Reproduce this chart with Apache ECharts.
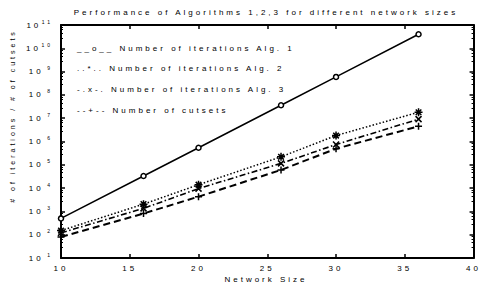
<!DOCTYPE html>
<html>
<head>
<meta charset="utf-8">
<script src="https://cdn.jsdelivr.net/npm/echarts@6/dist/echarts.min.js"></script>
<style>
    html, body { margin: 0; padding: 0; background: #fff; }
    #chart { width: 481px; height: 286px; }
    /* the original figure uses widely spaced lettering */
    #chart text { letter-spacing: 3px; }
</style>
</head>
<body>
<div id="chart"></div>
<script>
// Network sizes (x) and measured counts (y, log scale)
const sizes = [10, 16, 20, 26, 30, 36];
const alg1 = [500, 33000, 540000, 3.6e7, 5.9e8, 4e10];
const alg2 = [150, 2050, 14000, 2.2e5, 1.8e6, 1.8e7];
const alg3 = [120, 1350, 9500, 1.15e5, 7.4e5, 9.1e6];
const cutsets = [80, 810, 4300, 6e4, 4.9e5, 4.5e6];

const legendLines = [
    '__o__ Number of iterations Alg. 1',
    '..*.. Number of iterations Alg. 2',
    '-.x-. Number of iterations Alg. 3',
    '--+-- Number of cutsets'
];
const titleText = 'Performance of Algorithms 1,2,3 for different network sizes';
const xName = 'Network Size';
const yName = '# of iterations / # of cutsets';

const FONT = 'Liberation Sans, Arial, sans-serif';

// marker shapes drawn as strokes
const STAR = 'path://M0,5L10,5M5,0L5,10M1.5,1.5L8.5,8.5M8.5,1.5L1.5,8.5';
const CROSS = 'path://M0,0L10,10M10,0L0,10';
const PLUS = 'path://M0,5L10,5M5,0L5,10';

function toPairs(ys) {
    return sizes.map((x, i) => [x, ys[i]]);
}

function makeSeries(ys, symbol, size, lineType, width) {
    return {
        type: 'line',
        data: toPairs(ys),
        symbol: symbol,
        symbolSize: size,
        showAllSymbol: true,
        lineStyle: { color: '#000', width: width, type: lineType },
        itemStyle: {
            color: symbol === 'circle' ? '#fff' : 'transparent',
            borderColor: '#000',
            borderWidth: 1.5
        },
        z: 3,
        animation: false
    };
}

const logLabel = {
    fontSize: 8,
    fontFamily: FONT,
    color: '#000',
    hideOverlap: false,
    showMinLabel: true,
    showMaxLabel: true,
    formatter: v => '{b|10}{s|' + Math.round(Math.log10(v)) + '}',
    rich: {
        b: { fontSize: 8, fontFamily: FONT, color: '#000', lineHeight: 12 },
        s: { fontSize: 5, fontFamily: FONT, color: '#000', verticalAlign: 'top', padding: [0, 0, 0, 6.5] }
    }
};

const chart = echarts.init(document.getElementById('chart'), null, { renderer: 'svg' });

const lineStyleAxis = { color: '#000', width: 2 };
const tickStyle = { inside: true, length: 4, lineStyle: { color: '#000', width: 1.5 } };
const minorStyle = { show: true, splitNumber: 5, length: 2, lineStyle: { color: '#000', width: 1 } };

chart.setOption({
    backgroundColor: '#fff',
    animation: false,
    grid: { left: 61, right: 5, top: 25, bottom: 28 },
    xAxis: [
        {
            type: 'value', min: 10, max: 40, interval: 5,
            axisLine: { lineStyle: lineStyleAxis },
            axisTick: tickStyle,
            axisLabel: { fontSize: 8, fontFamily: FONT, color: '#000', margin: 6 },
            splitLine: { show: false }
        },
        {
            type: 'value', position: 'top', min: 10, max: 40, interval: 5,
            axisLine: { lineStyle: lineStyleAxis },
            axisTick: tickStyle,
            axisLabel: { show: false },
            splitLine: { show: false }
        }
    ],
    yAxis: [
        {
            type: 'log', logBase: 10, min: 10, max: 1e11, interval: 1,
            axisLine: { lineStyle: lineStyleAxis },
            axisTick: tickStyle,
            minorTick: minorStyle,
            axisLabel: Object.assign({ margin: 8 }, logLabel),
            splitLine: { show: false }
        },
        {
            type: 'log', logBase: 10, min: 10, max: 1e11, interval: 1, position: 'right',
            axisLine: { lineStyle: lineStyleAxis },
            axisTick: tickStyle,
            minorTick: minorStyle,
            axisLabel: { show: false },
            splitLine: { show: false }
        }
    ],
    series: [
        makeSeries(alg1, 'circle', 5, 'solid', 1.5),
        makeSeries(alg2, STAR, 8, [1.5, 2], 1.5),
        makeSeries(alg3, CROSS, 6, [6, 2.5, 1.5, 2.5], 1.6),
        makeSeries(cutsets, PLUS, 7, [7, 4], 2)
    ],
    graphic: [
        {
            type: 'text', x: 266, y: 12,
            style: { text: titleText, font: '8px ' + FONT, fill: '#000', textAlign: 'center', textVerticalAlign: 'middle' }
        },
        {
            type: 'text', x: 266, y: 279,
            style: { text: xName, font: '8px ' + FONT, fill: '#000', textAlign: 'center', textVerticalAlign: 'middle' }
        },
        {
            type: 'text', x: 12, y: 116, rotation: Math.PI / 2,
            style: { text: yName, font: '7px ' + FONT, fill: '#000', textAlign: 'center', textVerticalAlign: 'middle' }
        }
    ].concat(legendLines.map((t, i) => ({
        type: 'text', x: 77, y: 48 + i * 20.7,
        style: { text: t, font: '8px ' + FONT, fill: '#000', textAlign: 'left', textVerticalAlign: 'middle' }
    })))
});
</script>
</body>
</html>
